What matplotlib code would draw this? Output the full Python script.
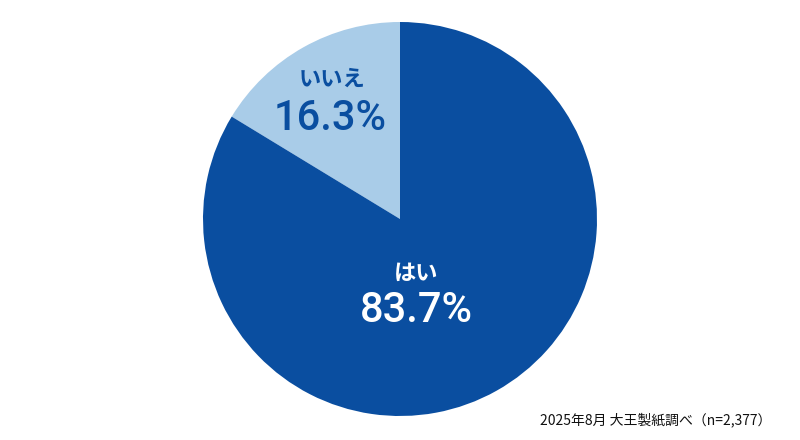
import matplotlib
matplotlib.use("Agg")
import matplotlib.pyplot as plt

plt.rcParams['font.family'] = ['Noto Sans CJK JP', 'DejaVu Sans']

labels = ['いいえ', 'はい']
values = [16.3, 83.7]
colors = ['#a9cce8', '#0a4ea0']
note = '2025年8月 大王製紙調べ（n=2,377）'

fig = plt.figure(figsize=(8, 4.4), dpi=100)
ax = fig.add_axes([0, 0, 1, 1])

cx, cy, r = 400, 219, 197
# y axis is inverted below, so angles run mirrored
ax.pie(values, colors=colors, startangle=-90, counterclock=False,
       center=(cx, cy), radius=r, frame=True,
       wedgeprops=dict(linewidth=0))
ax.set_xlim(0, 800)
ax.set_ylim(440, 0)
ax.set_aspect('equal')
ax.axis('off')

# labels
ax.text(332, 79, labels[0], ha='center', va='center', fontsize=16,
        fontweight='bold', color='#0a4ea0')
ax.text(330, 119, f'{values[0]}%', ha='center', va='center', fontsize=30,
        fontweight='medium', color='#0a4ea0', family=['Roboto', 'Noto Sans CJK JP'])
ax.text(416, 273, labels[1], ha='center', va='center', fontsize=16,
        fontweight='bold', color='white')
ax.text(416, 310, f'{values[1]}%', ha='center', va='center', fontsize=30,
        fontweight='medium', color='white', family=['Roboto', 'Noto Sans CJK JP'])

ax.text(771, 420, note, ha='right', va='center', fontsize=10, color='#111111')

fig.savefig('out.png', dpi=100)
